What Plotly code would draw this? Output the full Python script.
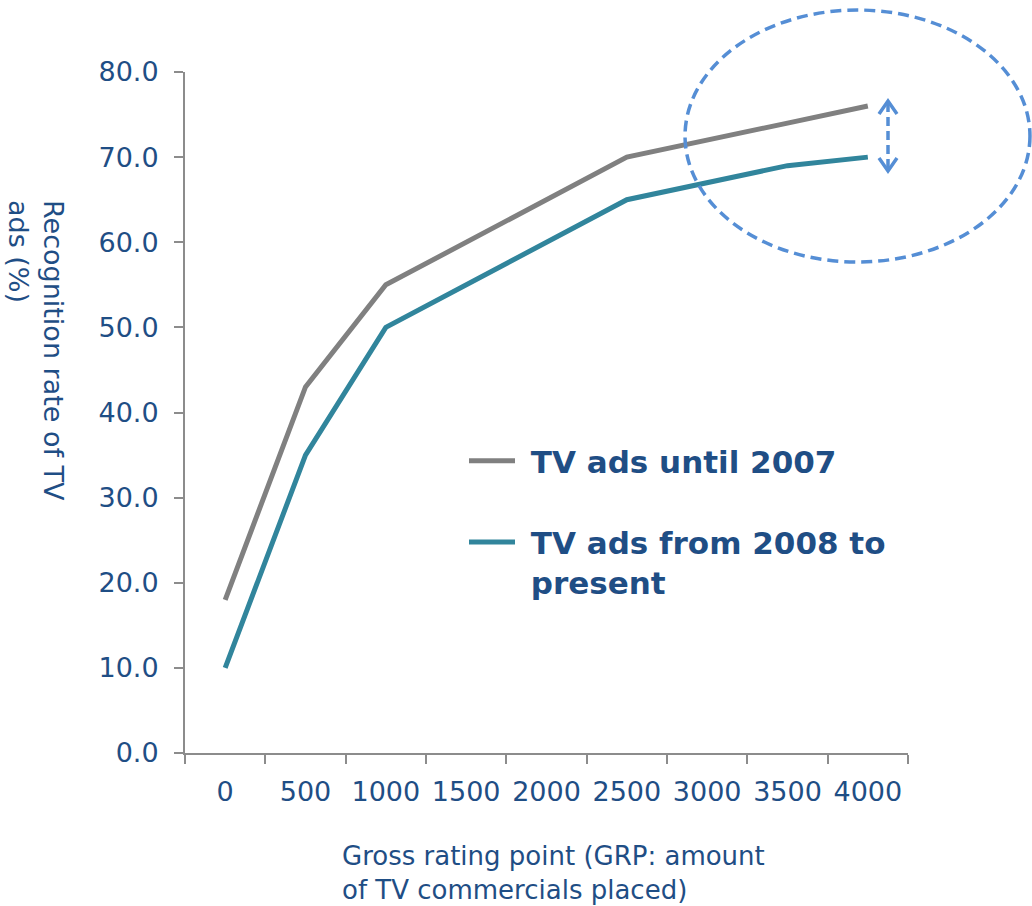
import plotly.graph_objects as go

# GRP categories shown on the x axis
grp_labels = ["0", "500", "1000", "1500", "2000", "2500", "3000", "3500", "4000"]

# Recognition rate (%) by GRP
until_2007_x = ["0", "500", "1000", "2500", "3500", "4000"]
until_2007_y = [18.0, 43.0, 55.0, 70.0, 74.0, 76.0]

from_2008_x = ["0", "500", "1000", "2500", "3500", "4000"]
from_2008_y = [10.0, 35.0, 50.0, 65.0, 69.0, 70.0]

TEXT = "#1F4E85"
AXIS = "#8C8C8C"
GRAY = "#808080"
TEAL = "#31859C"
HILITE = "#558ED5"
FONT = "DejaVu Sans"
NB = "\u00a0"

fig = go.Figure()
fig.add_trace(go.Scatter(
    x=until_2007_x, y=until_2007_y, mode="lines", name=NB + "TV ads until 2007",
    line=dict(color=GRAY, width=5), legendgroup="a",
))
fig.add_trace(go.Scatter(
    x=from_2008_x, y=from_2008_y, mode="lines",
    name=NB + "TV ads from 2008 to<br>" + NB + "present",
    line=dict(color=TEAL, width=5), legendgroup="b",
))

# highlight: dashed ellipse around the line ends and a dashed double arrow
fig.add_shape(type="circle", xref="paper", yref="paper",
              x0=0.6916, x1=1.1687, y0=0.7210, y1=1.0910,
              line=dict(color=HILITE, width=3.5, dash="11px,6px"))


def px(x):
    return (x - 185) / 723


def py(y):
    return (753 - y) / 681


fig.add_shape(type="line", xref="paper", yref="paper",
              x0=px(888), x1=px(888), y0=py(103), y1=py(169),
              line=dict(color=HILITE, width=3.5, dash="9px,5px"))
fig.add_shape(type="path", xref="paper", yref="paper",
              path=f"M {px(879)} {py(114)} L {px(888)} {py(101)} L {px(897)} {py(114)}",
              line=dict(color=HILITE, width=3.5))
fig.add_shape(type="path", xref="paper", yref="paper",
              path=f"M {px(879)} {py(158)} L {px(888)} {py(171)} L {px(897)} {py(158)}",
              line=dict(color=HILITE, width=3.5))

fig.add_annotation(
    text="Gross rating point (GRP: amount<br>of TV commercials placed)",
    xref="paper", yref="paper", x=px(340), y=py(839),
    xanchor="left", yanchor="top", align="left", showarrow=False,
    font=dict(family=FONT, size=26, color=TEXT),
)
fig.add_annotation(
    text="Recognition rate of TV<br>ads (%)",
    xref="paper", yref="paper", x=px(36), y=py(350),
    xanchor="center", yanchor="middle", align="left", textangle=90,
    showarrow=False, font=dict(family=FONT, size=27, color=TEXT),
)

fig.update_layout(
    width=1032, height=906,
    margin=dict(l=185, r=124, t=72, b=153),
    paper_bgcolor="white", plot_bgcolor="white",
    font=dict(family=FONT, color=TEXT),
    showlegend=True,
    legend=dict(
        x=px(464), y=py(434), xanchor="left", yanchor="top",
        font=dict(family=FONT, size=31, color=TEXT, weight="bold"),
        tracegroupgap=38, valign="top", bgcolor="rgba(0,0,0,0)",
        itemwidth=46,
    ),
    xaxis=dict(
        type="category", categoryorder="array", categoryarray=grp_labels,
        range=[-0.5, len(grp_labels) - 0.5],
        tickson="boundaries", ticks="outside", ticklen=9, tickwidth=2, tickcolor=AXIS,
        showline=True, linecolor=AXIS, linewidth=2, showgrid=False, zeroline=False,
        tickfont=dict(family=FONT, size=27, color=TEXT), ticklabelstandoff=14,
    ),
    yaxis=dict(
        range=[0, 80], dtick=10, tickformat=".1f",
        ticks="outside", ticklen=9, tickwidth=2, tickcolor=AXIS,
        showline=True, linecolor=AXIS, linewidth=2, showgrid=False, zeroline=False,
        tickfont=dict(family=FONT, size=27, color=TEXT), ticklabelstandoff=10,
    ),
)

fig.write_html("out.html")
